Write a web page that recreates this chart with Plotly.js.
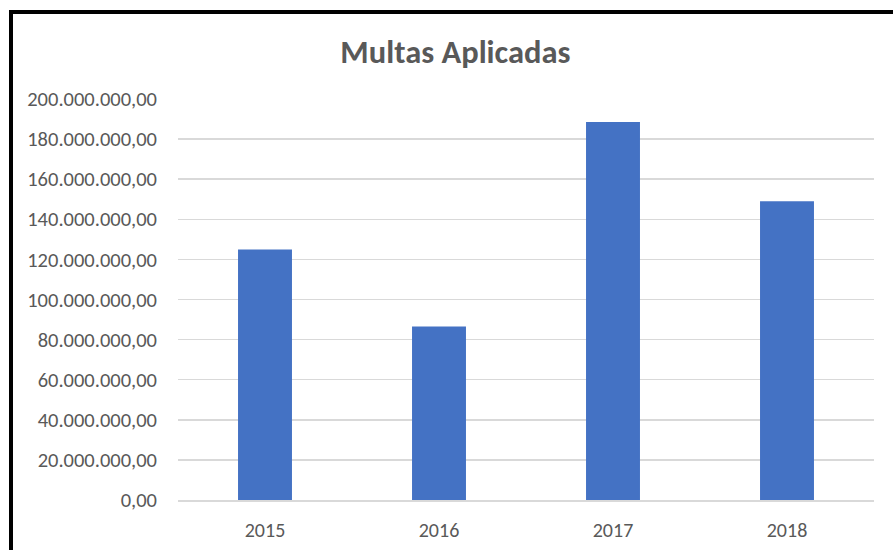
<!DOCTYPE html>
<html>
<head>
<meta charset="utf-8">
<script src="https://cdn.plot.ly/plotly-3.0.1.min.js"></script>
<style>
  html, body { margin: 0; padding: 0; background: #fff; overflow: hidden; }
  #chart { width: 893px; height: 550px; }
  #frame { position: absolute; left: 9px; top: 10px; width: 920px; height: 600px;
           border: 4px solid #000; pointer-events: none; box-sizing: border-box; }
</style>
</head>
<body>
<div id="chart"></div>
<div id="frame"></div>
<script>
const years = ['2015', '2016', '2017', '2018'];
const multas = [125000000, 86500000, 188500000, 149000000];
const yTicks = [0, 20000000, 40000000, 60000000, 80000000, 100000000, 120000000, 140000000, 160000000, 180000000, 200000000];

const fontFam = 'Carlito, Lato, "Open Sans", sans-serif';

Plotly.newPlot('chart', [{
  type: 'bar',
  x: years,
  y: multas,
  marker: { color: '#4472C4' },
  hoverinfo: 'none'
}], {
  width: 893,
  height: 550,
  margin: { l: 178, r: 19, t: 99, b: 50 },
  paper_bgcolor: '#fff',
  plot_bgcolor: '#fff',
  separators: ',.',
  bargap: 0.69,
  showlegend: false,
  title: {
    text: '<b>Multas Aplicadas</b>',
    font: { family: fontFam, size: 32.5, color: '#595959' },
    x: 0.51, xanchor: 'center',
    y: 1 - 52 / 550, yanchor: 'middle', yref: 'container'
  },
  xaxis: {
    type: 'category',
    tickfont: { family: fontFam, size: 20, color: '#595959' },
    showgrid: false,
    showline: true,
    linecolor: '#d9d9d9',
    linewidth: 1.5,
    ticks: '',
    ticklabelstandoff: 11
  },
  yaxis: {
    range: [0, 200000000],
    tickvals: yTicks,
    tickformat: ',.2f',
    tickfont: { family: fontFam, size: 20.5, color: '#595959' },
    showgrid: true,
    gridcolor: '#d9d9d9',
    gridwidth: 1.5,
    zeroline: false,
    showline: false,
    ticks: '',
    ticklabelstandoff: 20
  }
}, { displayModeBar: false, staticPlot: true });
</script>
</body>
</html>
